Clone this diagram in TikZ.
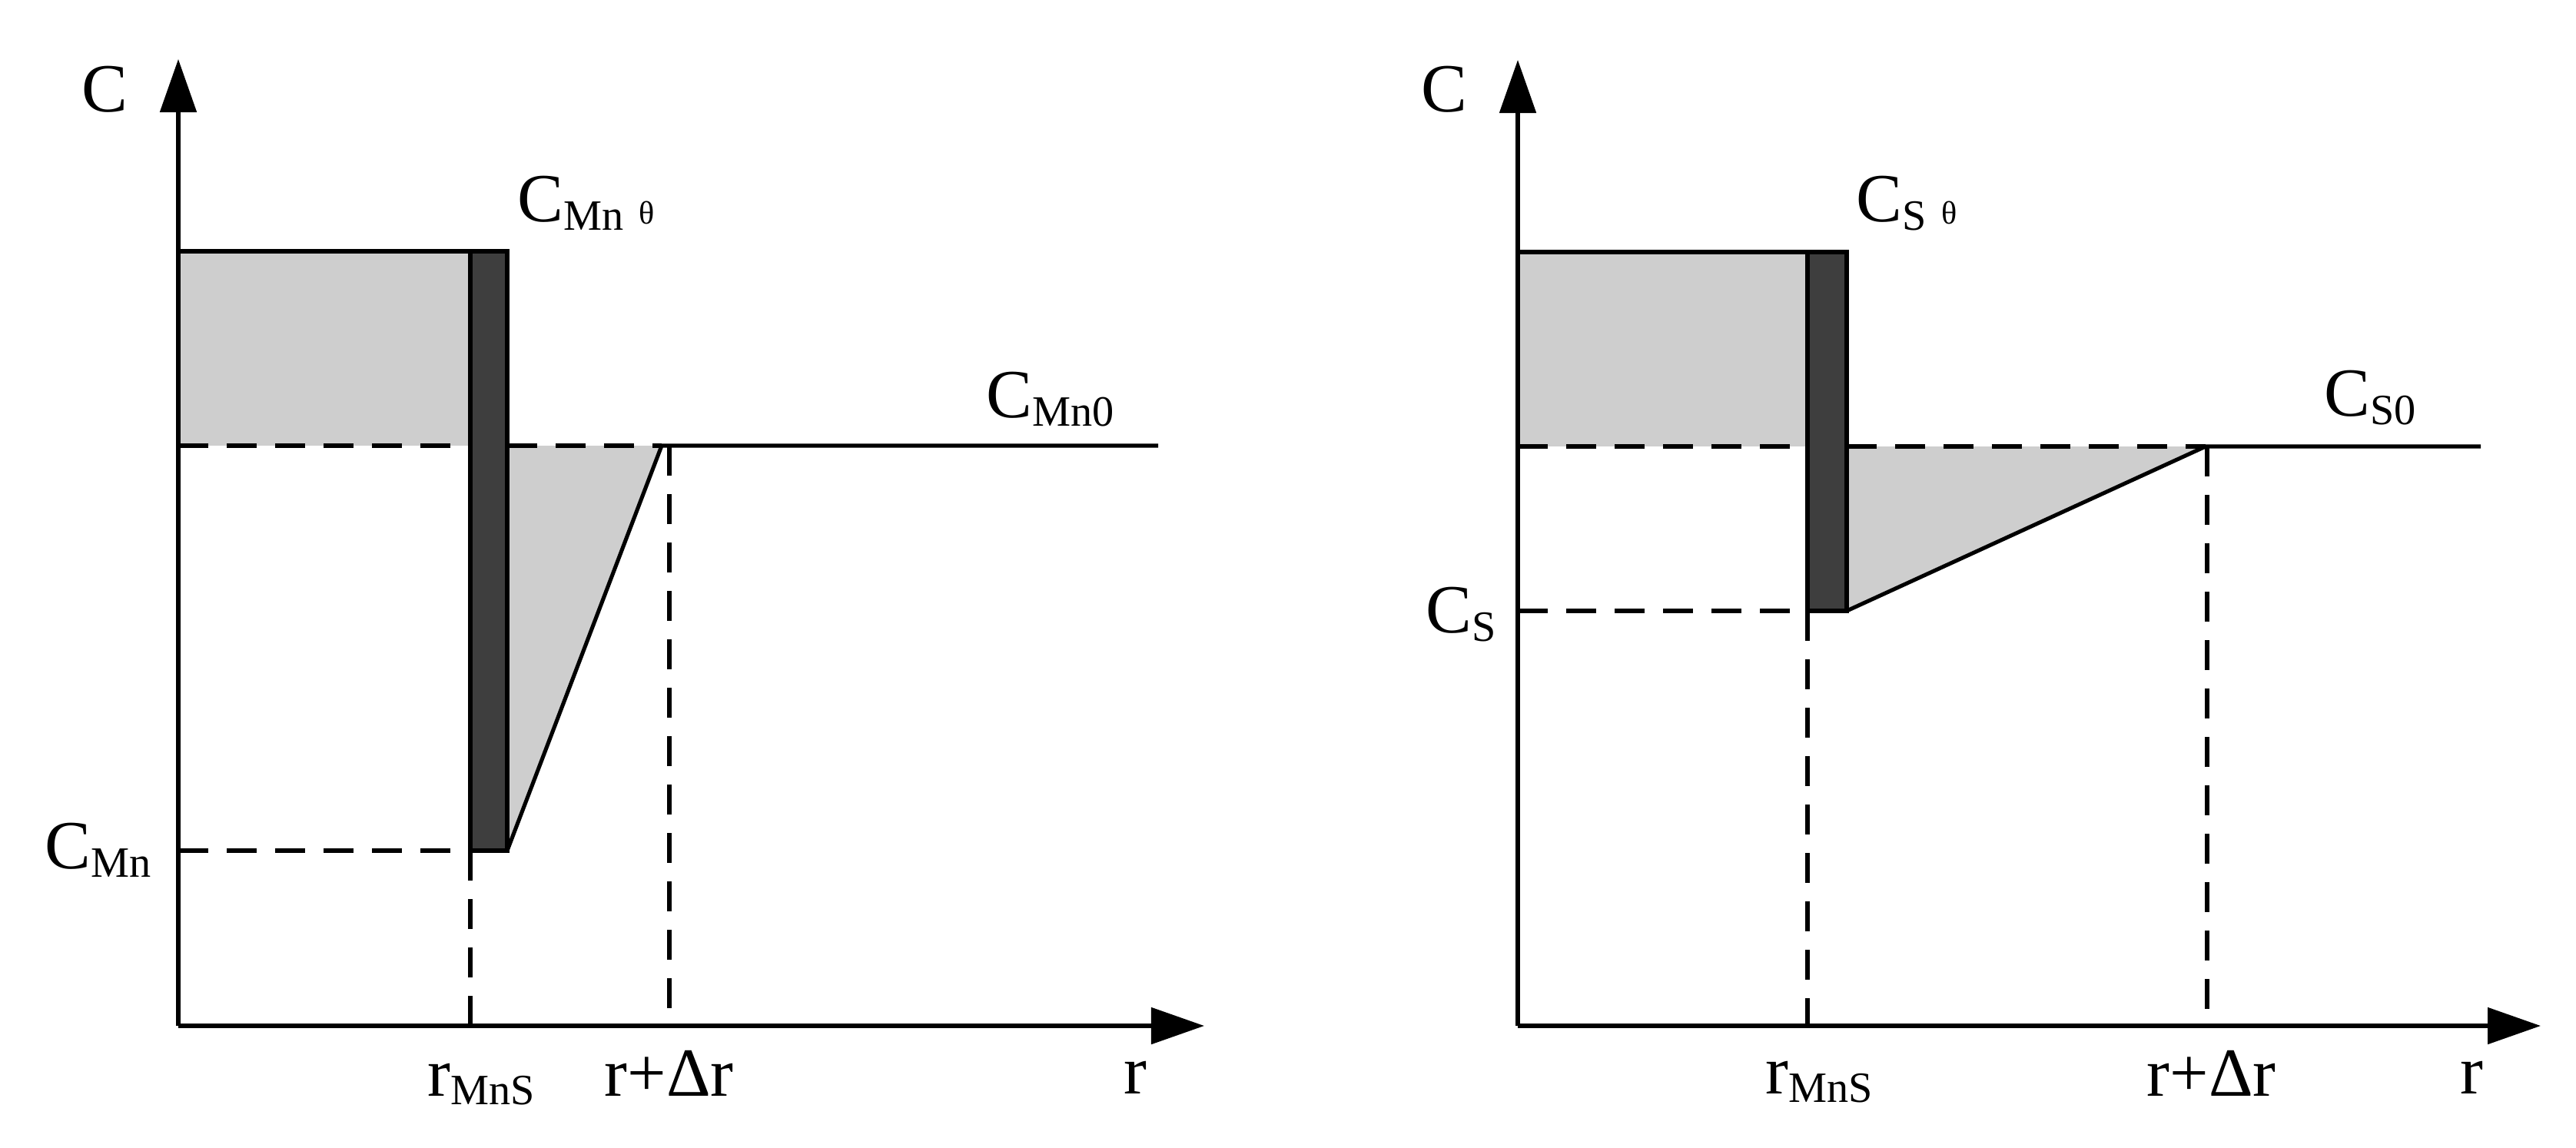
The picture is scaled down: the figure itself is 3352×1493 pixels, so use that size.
\documentclass[tikz,border=0pt]{standalone}
\usepackage{fontspec}
\setmainfont{Liberation Serif}
\usetikzlibrary{arrows.meta}
\definecolor{hatchgray}{RGB}{206,206,206}
\definecolor{bargray}{RGB}{62,62,62}
\newcommand{\sbx}[1]{\raisebox{-0.11cm}{\fontsize{16}{16}\selectfont #1}}
\newcommand{\thx}{\hspace{0.2cm}\raisebox{-0.03cm}{\fontsize{12}{12}\selectfont θ}}
\begin{document}
\begin{tikzpicture}[x=0.01cm,y=-0.01cm,
  lw/.style={line width=1.45pt},
  axis/.style={lw,-{Triangle[length=0.69cm,width=0.47cm]}},
  dsh/.style={lw,dash pattern=on 0.39cm off 0.24cm},
  hatchfill/.style={fill=hatchgray},
  bar/.style={lw,fill=bargray,draw=black},
  lbl/.style={anchor=base west,inner sep=0pt,font=\fontsize{25.5}{30}\selectfont}]
\useasboundingbox (0,0) rectangle (3352,1493);

% ---------------- left plot ----------------
\coordinate (Lo) at (232,1335);
\coordinate (Ltop) at (232,77);
\coordinate (Lxt) at (1567,1335);
\coordinate (Lra) at (232,327);
\coordinate (Lbl) at (612,327);
\coordinate (Lbr) at (660,1107);
\coordinate (Ld0) at (232,580);
\coordinate (Ld1) at (612,580);
\coordinate (Ld2) at (660,580);
\coordinate (Lap) at (861,580);
\coordinate (Lend) at (1507,580);
\coordinate (Lm0) at (232,1107);
\coordinate (Lm1) at (612,1107);
\coordinate (Lv1) at (612,1335);
\coordinate (Lv2t) at (871,580);
\coordinate (Lv2b) at (871,1335);

\fill[hatchfill] (Lra) rectangle (Ld1);
\fill[hatchfill] (Ld2) -- (Lap) -- (Lbr) -- cycle;
\draw[dsh] (Ld0) -- (Ld1);
\draw[dsh] (Ld2) -- (Lap);
\draw[dsh] (Lm0) -- (Lm1);
\draw[dsh] (Lm1) -- (Lv1);
\draw[dsh] (Lv2t) -- (Lv2b);
\draw[lw] (Lra) -- (Lbl);
\draw[bar] (Lbl) rectangle (Lbr);
\draw[lw] (Lbr) -- (Lap) -- (Lend);
\draw[axis] (Lo) -- (Ltop);
\draw[axis] (Lo) -- (Lxt);

\node[lbl] (lC) at (106,145) {C};
\node[lbl] (lCth) at (673,288) {C\sbx{Mn}\thx};
\node[lbl] (lC0) at (1283,543) {C\sbx{Mn0}};
\node[lbl] (lCm) at (58,1130) {C\sbx{Mn}};
\node[lbl] (lr1) at (556,1426) {r\sbx{MnS}};
\node[lbl] (lr2) at (786,1426) {r+Δr};
\node[lbl] (lr) at (1462,1423) {r};

% ---------------- right plot ----------------
\coordinate (Ro) at (1975,1335);
\coordinate (Rtop) at (1975,78);
\coordinate (Rxt) at (3306,1335);
\coordinate (Rra) at (1975,328);
\coordinate (Rbl) at (2352,328);
\coordinate (Rbr) at (2403,795);
\coordinate (Rd0) at (1975,581);
\coordinate (Rd1) at (2352,581);
\coordinate (Rd2) at (2403,581);
\coordinate (Rap) at (2870,581);
\coordinate (Rend) at (3228,581);
\coordinate (Rm0) at (1975,795);
\coordinate (Rm1) at (2352,795);
\coordinate (Rv1) at (2352,1335);
\coordinate (Rv2t) at (2872,581);
\coordinate (Rv2b) at (2872,1335);

\fill[hatchfill] (Rra) rectangle (Rd1);
\fill[hatchfill] (Rd2) -- (Rap) -- (Rbr) -- cycle;
\draw[dsh] (Rd0) -- (Rd1);
\draw[dsh] (Rd2) -- (Rap);
\draw[dsh] (Rm0) -- (Rm1);
\draw[dsh] (Rm1) -- (Rv1);
\draw[dsh] (Rv2t) -- (Rv2b);
\draw[lw] (Rra) -- (Rbl);
\draw[bar] (Rbl) rectangle (Rbr);
\draw[lw] (Rbr) -- (Rap) -- (Rend);
\draw[axis] (Ro) -- (Rtop);
\draw[axis] (Ro) -- (Rxt);

\node[lbl] (rC) at (1849,145) {C};
\node[lbl] (rCth) at (2415,288) {C\sbx{S}\thx};
\node[lbl] (rC0) at (3024,541) {C\sbx{S0}};
\node[lbl] (rCs) at (1855,823) {C\sbx{S}};
\node[lbl] (rr1) at (2297,1423) {r\sbx{MnS}};
\node[lbl] (rr2) at (2793,1426) {r+Δr};
\node[lbl] (rr) at (3201,1423) {r};
\end{tikzpicture}
\end{document}
